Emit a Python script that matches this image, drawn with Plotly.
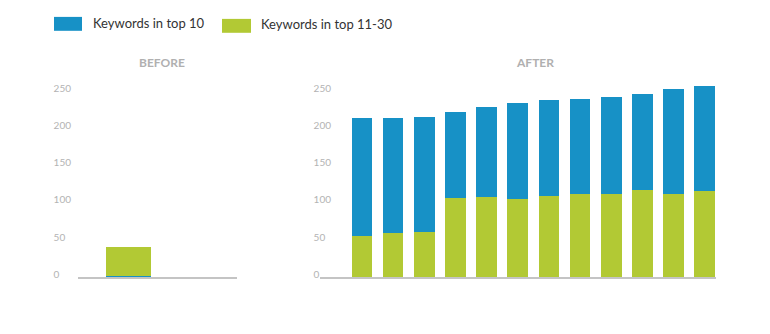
import plotly.graph_objects as go

# ---- data ----
before_x = [0]
before_top10 = [2]
before_top11_30 = [38]

after_x = list(range(12))
after_top11_30 = [55, 59, 60, 106, 107, 105, 109, 111, 112, 117, 112, 116]
after_top10 = [159, 155, 155, 116, 121, 129, 129, 128, 130, 129, 140, 141]

tick_vals = [0, 50, 100, 150, 200, 250]
tick_text = ["0\u2007\u2007", "50\u2007", "100", "150", "200", "250"]

series_names = ["Keywords in top 10", "Keywords in top 11-30"]
BLUE = "#1791c6"
GREEN = "#b2c934"

W, H = 770, 325
def px(x):
    return x / W
def py(y):
    return 1 - y / H

fig = go.Figure()
fig.add_trace(go.Bar(x=before_x, y=before_top10, width=1, marker_color=BLUE,
                     marker_line_width=0, xaxis="x", yaxis="y", name=series_names[0]))
fig.add_trace(go.Bar(x=before_x, y=before_top11_30, width=1, marker_color=GREEN,
                     marker_line_width=0, xaxis="x", yaxis="y", name=series_names[1]))
fig.add_trace(go.Bar(x=after_x, y=after_top11_30, width=0.661, marker_color=GREEN,
                     marker_line_width=0, xaxis="x2", yaxis="y2", name=series_names[1]))
fig.add_trace(go.Bar(x=after_x, y=after_top10, width=0.661, marker_color=BLUE,
                     marker_line_width=0, xaxis="x2", yaxis="y2", name=series_names[0]))

ydom = [py(279.0), py(279.0 - 270 * 0.7496)]
yax = dict(range=[0, 270], tickvals=tick_vals, ticktext=tick_text, showgrid=False,
           zeroline=False, showline=False, ticks="", anchor="free",
           tickfont=dict(family="Lato", size=10, color="#b3b3b3"),
           domain=ydom, ticklabelshift=-3, fixedrange=True)
xax = dict(showgrid=False, zeroline=False, showline=True, linecolor="#c4c4c4",
           linewidth=2, showticklabels=False, ticks="")

fig.update_layout(
    width=W, height=H, margin=dict(l=0, r=0, t=0, b=0),
    paper_bgcolor="white", plot_bgcolor="white",
    barmode="stack", showlegend=False, bargap=0,
    font=dict(family="Lato", color="#333333"),
    xaxis=dict(xax, domain=[px(78), px(237)], range=[-1.119, 2.391], anchor="y"),
    xaxis2=dict(xax, domain=[px(320), px(716)], range=[-1.348, 11.364], anchor="y2"),
    yaxis=dict(yax, position=px(71)),
    yaxis2=dict(yax, position=px(331)),
)

# legend (drawn manually to match the large swatches)
fig.add_shape(type="rect", xref="paper", yref="paper", x0=px(54), x1=px(82),
              y0=py(31), y1=py(17), fillcolor=BLUE, line_width=0)
fig.add_shape(type="rect", xref="paper", yref="paper", x0=px(222), x1=px(251),
              y0=py(33), y1=py(19), fillcolor=GREEN, line_width=0)
fig.add_annotation(x=px(91), y=py(23), xref="paper", yref="paper", text=series_names[0],
                   showarrow=False, xanchor="left", yanchor="middle",
                   font=dict(family="Lato", size=13, color="#333333"))
fig.add_annotation(x=px(259), y=py(24.5), xref="paper", yref="paper", text=series_names[1],
                   showarrow=False, xanchor="left", yanchor="middle",
                   font=dict(family="Lato", size=13, color="#333333"))

# panel titles
fig.add_annotation(x=px(161.7), y=py(62.7), xref="paper", yref="paper", text="<b>BEFORE</b>",
                   showarrow=False, xanchor="center", yanchor="middle",
                   font=dict(family="Lato", size=12, color="#b0b0b0"))
fig.add_annotation(x=px(534.5), y=py(62.7), xref="paper", yref="paper", text="<b>AFTER</b>",
                   showarrow=False, xanchor="center", yanchor="middle",
                   font=dict(family="Lato", size=12, color="#b0b0b0"))

fig.write_html("out.html")
